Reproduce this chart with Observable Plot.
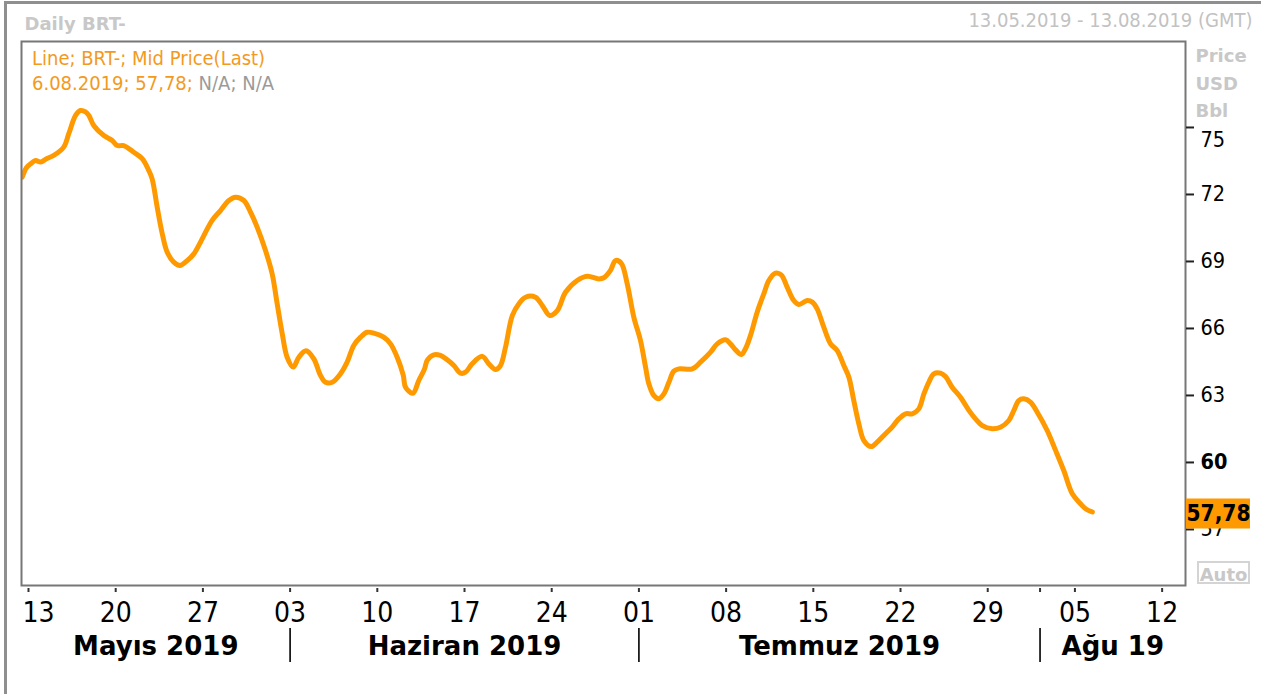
<!DOCTYPE html>
<html>
<head>
<meta charset="utf-8">
<script src="https://cdn.jsdelivr.net/npm/d3@7"></script>
<script src="https://cdn.jsdelivr.net/npm/@observablehq/plot@0.6"></script>
<style>
  html, body { margin: 0; padding: 0; background: #fff; }
  #wrap { position: relative; width: 1261px; height: 694px; overflow: hidden; background: #fff; }
  #border { position: absolute; left: 4px; top: 1px; width: 1300px; height: 760px;
            border-left: 3px solid #8f8f8f; border-top: 3px solid #8f8f8f; }
  #legend { position: absolute; left: 32px; top: 45.6px; font-family: "DejaVu Sans Condensed", "DejaVu Sans", sans-serif;
            font-size: 20px; line-height: 25px; color: #f39a1e; white-space: nowrap; }
  #legend .na { color: #9a9a9a; }
  #auto { position: absolute; left: 1197px; top: 561px; width: 49px; height: 19px; border: 2px solid #d4d4d4;
          font-family: "DejaVu Sans", sans-serif; font-weight: bold; font-size: 18px; line-height: 23px;
          color: #c8c8c8; text-align: center; }
</style>
</head>
<body>
<div id="wrap">
  <div id="border"></div>
  <div id="chart"></div>
  <div id="legend"></div>
  <div id="auto">Auto</div>
</div>
<script>
// ---- data (x = trading-day position, 0 = 13.05.2019) ----
const tradingDay = [-0.36,-0.12,0.12,0.40,0.69,1.03,1.45,2.02,2.31,2.70,
  2.98,3.27,3.46,3.74,4.32,4.80,5.09,5.46,6.04,6.52,
  6.90,7.09,7.38,7.67,7.95,8.33,8.68,9.10,9.48,9.86,
  10.53,11.01,11.49,11.87,12.35,12.73,13.11,13.59,13.97,14.26,
  14.55,14.83,15.18,15.50,15.91,16.36,16.74,17.03,17.41,17.89,
  18.27,18.65,19.04,19.42,19.80,20.37,20.76,21.14,21.49,21.62,
  22.04,22.38,22.71,22.86,23.24,23.62,24.01,24.39,24.77,25.06,
  25.44,26.02,26.39,26.78,27.06,27.35,27.74,28.11,28.50,29.07,
  29.46,29.89,30.32,30.79,31.46,32.04,32.70,32.99,33.37,33.66,
  33.99,34.33,34.71,35.09,35.38,35.57,35.85,36.14,36.43,36.72,
  37.00,37.29,38.06,38.53,39.11,39.49,39.97,40.25,40.54,40.87,
  41.11,41.40,41.78,42.16,42.45,42.83,43.16,43.50,43.88,44.17,
  44.65,44.94,45.22,45.60,45.99,46.37,46.75,47.04,47.32,47.61,
  47.90,48.32,48.66,49.04,49.52,49.90,50.29,50.67,51.05,51.34,
  51.62,51.91,52.29,52.58,52.96,53.44,53.92,54.30,54.69,55.26,
  55.73,56.21,56.50,56.78,57.07,57.45,57.84,58.41,58.89,59.36,
  59.85,60.32,60.61,61.00];
const price = [72.77,73.20,73.37,73.52,73.45,73.60,73.75,74.12,74.72,75.54,
  75.76,75.70,75.54,75.09,74.64,74.42,74.19,74.19,73.89,73.60,
  73.07,72.70,71.43,70.24,69.42,68.97,68.82,69.04,69.34,69.86,
  70.84,71.28,71.73,71.88,71.73,71.21,70.54,69.49,68.45,67.10,
  65.76,64.71,64.27,64.71,65.00,64.64,63.90,63.59,63.59,63.97,
  64.49,65.24,65.61,65.83,65.79,65.61,65.31,64.71,63.90,63.37,
  63.10,63.67,64.19,64.57,64.82,64.79,64.60,64.34,64.00,64.04,
  64.42,64.75,64.42,64.16,64.34,65.16,66.58,67.10,67.40,67.40,
  67.03,66.58,66.80,67.62,68.15,68.34,68.22,68.27,68.60,69.04,
  68.92,68.00,66.50,65.46,64.27,63.52,63.00,62.85,63.07,63.59,
  64.09,64.19,64.19,64.49,64.94,65.31,65.49,65.31,65.04,64.83,
  65.09,65.69,66.73,67.55,68.15,68.48,68.40,67.85,67.25,67.07,
  67.25,67.18,66.88,66.06,65.31,65.01,64.34,63.82,62.77,61.73,
  60.98,60.71,60.91,61.21,61.58,61.95,62.18,62.18,62.40,63.07,
  63.59,63.97,64.00,63.85,63.37,62.92,62.33,61.95,61.65,61.51,
  61.58,61.88,62.33,62.77,62.85,62.70,62.25,61.43,60.54,59.64,
  58.60,58.15,57.93,57.78];

const xTickPos = [0,5,10,15,20,25,30,35,40,45,50,55,60,65];
const xTickLabels = ["13","20","27","03","10","17","24","01","08","15","22","29","05","12"];
const monthBreaks = [15, 35, 58];            // 03.06, 01.07, 01.08
const monthLabels = ["Mayıs 2019","Haziran 2019","Temmuz 2019","Ağu 19"];
const yTicks = [57,60,63,66,69,72,75];
const yBoldTick = 60;
const xDomain = [-0.401, 66.34];
const yDomain = [54.49, 78.85];
const lastDateText = "6.08.2019";
const lastPrice = price[price.length - 1];
const titleText = "Daily BRT-";
const rangeText = "13.05.2019 - 13.08.2019 (GMT)";
const unitText = "Price\nUSD\nBbl";
const seriesText = "Line; BRT-; Mid Price(Last)";

// ---- build ----
const data = tradingDay.map((t, i) => ({t, p: price[i]}));
const bounds = [xDomain[0], ...monthBreaks, xDomain[1]];
const monthMid = monthLabels.map((m, i) => ({label: m, x: (bounds[i] + bounds[i + 1]) / 2}));
const ticks = xTickPos.map((t, i) => ({t, label: xTickLabels[i]}));
const fmt = v => v.toFixed(2).replace(".", ",");
const COND = "'DejaVu Sans Condensed', 'DejaVu Sans', sans-serif";
const SANS = "'DejaVu Sans', sans-serif";

const chart = Plot.plot({
  width: 1261, height: 694,
  marginLeft: 21, marginTop: 41, marginRight: 76, marginBottom: 109,
  x: {type: "linear", domain: xDomain, axis: null},
  y: {type: "linear", domain: yDomain, axis: null},
  style: {background: "transparent", fontFamily: COND, overflow: "visible"},
  marks: [
    // header
    Plot.text([titleText], {text: d => d, frameAnchor: "top-left", dx: 3, dy: -11.7, lineAnchor: "bottom",
      textAnchor: "start", fontFamily: SANS, fontWeight: "bold", fontSize: 18, fill: "#c8c8c8"}),
    Plot.text([rangeText], {text: d => d, frameAnchor: "top-right", dx: 67, dy: -14.5, lineAnchor: "bottom",
      textAnchor: "end", fontSize: 20, fill: "#c2c2c2"}),
    Plot.text([unitText], {text: d => d, frameAnchor: "top-right", dx: 10, dy: 1.3, lineAnchor: "top",
      lineHeight: 1.52, textAnchor: "start", fontFamily: SANS, fontWeight: "bold", fontSize: 18, fill: "#c8c8c8"}),
    // price line
    Plot.line(data, {x: "t", y: "p", stroke: "#ff9900", strokeWidth: 5, curve: "catmull-rom",
      strokeLinejoin: "round", clip: true}),
    // frame
    Plot.frame({stroke: "#777", strokeWidth: 2}),
    // y ticks
    Plot.ruleY(yTicks, {y: d => d, stroke: "#222", strokeWidth: 2, insetLeft: 1165, insetRight: -9}),
    Plot.text(yTicks.filter(d => d !== yBoldTick && d !== 75), {y: d => d, text: d => String(d),
      frameAnchor: "right", dx: 15, textAnchor: "start", lineAnchor: "middle", fontSize: 21.5, fill: "#000"}),
    Plot.text(yTicks.filter(d => d === 75), {y: d => d, text: d => String(d),
      frameAnchor: "right", dx: 15, dy: 13, textAnchor: "start", lineAnchor: "middle", fontSize: 21.5, fill: "#000"}),
    Plot.text([yBoldTick], {y: d => d, text: d => String(d), frameAnchor: "right", dx: 15, textAnchor: "start",
      lineAnchor: "middle", fontSize: 21.5, fontWeight: "bold", fill: "#000"}),
    // last value box
    Plot.ruleY([lastPrice], {y: d => d, stroke: "#ff9900", strokeWidth: 30, dy: 1.5, insetLeft: 1165, insetRight: -65}),
    Plot.text([lastPrice], {y: d => d, text: d => fmt(d), frameAnchor: "right", dx: 33, dy: 1.5,
      textAnchor: "middle", lineAnchor: "middle", fontSize: 22.5, fontWeight: "bold", fill: "#000"}),
    // x ticks
    Plot.ruleX([...xTickPos, monthBreaks[2]], {x: d => d, stroke: "#333", strokeWidth: 2, insetTop: 547, insetBottom: -7}),
    Plot.text(ticks.slice(0, 1), {x: "t", text: "label", frameAnchor: "bottom", dx: -6, dy: 28,
      textAnchor: "start", lineAnchor: "middle", fontSize: 28, fill: "#000"}),
    Plot.text(ticks.slice(1), {x: "t", text: "label", frameAnchor: "bottom", dy: 28,
      textAnchor: "middle", lineAnchor: "middle", fontSize: 28, fill: "#000"}),
    // month separators and labels
    Plot.ruleX(monthBreaks, {x: d => d, stroke: "#000", strokeWidth: 1.6, insetTop: 587, insetBottom: -77}),
    Plot.text(monthMid, {x: "x", text: "label", frameAnchor: "bottom", dy: 61, textAnchor: "middle",
      lineAnchor: "middle", fontFamily: SANS, fontWeight: "bold", fontSize: 26, fill: "#000"})
  ]
});
document.getElementById("chart").appendChild(chart);

const legend = document.getElementById("legend");
legend.innerHTML = `<div>${seriesText}</div><div>${lastDateText}; ${fmt(lastPrice)}; <span class="na">N/A; N/A</span></div>`;
</script>
</body>
</html>
